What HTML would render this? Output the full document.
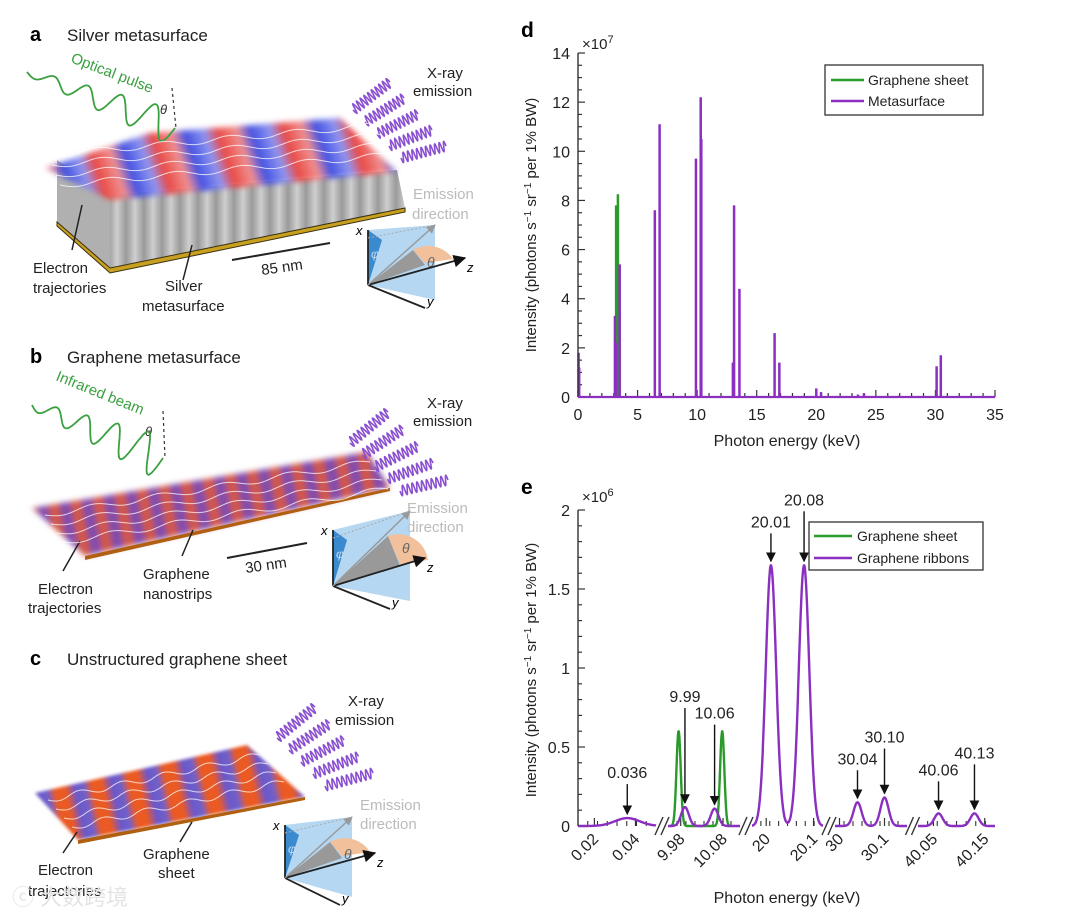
<!DOCTYPE html>
<html><head><meta charset="utf-8"><style>
html,body{margin:0;padding:0;background:#fff;}
svg{display:block;font-family:"Liberation Sans","Noto Sans CJK SC",sans-serif;}
</style></head><body>
<svg id="fig" width="1080" height="917" viewBox="0 0 1080 917">
<defs>
<filter id="blur2"><feGaussianBlur stdDeviation="3"/></filter>
<filter id="blur1"><feGaussianBlur stdDeviation="1.5"/></filter>
<linearGradient id="gA" gradientUnits="userSpaceOnUse" x1="40" y1="0" x2="100" y2="-20" spreadMethod="repeat">
<stop offset="0" stop-color="#e8403a"/><stop offset="0.3" stop-color="#f08a8a"/><stop offset="0.5" stop-color="#3a4ae0"/><stop offset="0.8" stop-color="#8a90f0"/><stop offset="1" stop-color="#e8403a"/></linearGradient>
<linearGradient id="gB" gradientUnits="userSpaceOnUse" x1="30" y1="0" x2="52" y2="-4" spreadMethod="repeat">
<stop offset="0" stop-color="#e85a2a"/><stop offset="0.5" stop-color="#6a4ac8"/><stop offset="1" stop-color="#e85a2a"/></linearGradient>
<linearGradient id="gC" gradientUnits="userSpaceOnUse" x1="30" y1="0" x2="66" y2="-8" spreadMethod="repeat">
<stop offset="0" stop-color="#ea5a22"/><stop offset="0.3" stop-color="#ea5a22"/><stop offset="0.55" stop-color="#6a58cc"/><stop offset="0.8" stop-color="#7060c8"/><stop offset="1" stop-color="#ea5a22"/></linearGradient>
<linearGradient id="gF" x1="0" y1="0" x2="1" y2="0" spreadMethod="repeat" gradientUnits="userSpaceOnUse" gradientTransform="scale(18,1)">
<stop offset="0" stop-color="#9a9a9a"/><stop offset="0.5" stop-color="#cfcfcf"/><stop offset="1" stop-color="#9a9a9a"/></linearGradient>
<marker id="arr" viewBox="0 0 10 10" refX="9" refY="5" markerWidth="7" markerHeight="7" orient="auto"><path d="M0,0L10,5L0,10z" fill="#111"/></marker>
<marker id="arrG" viewBox="0 0 10 10" refX="9" refY="5" markerWidth="6" markerHeight="6" orient="auto"><path d="M0,0L10,5L0,10z" fill="#999"/></marker>
</defs>

<!-- Panel a -->
<g>
<text x="30" y="41" font-size="20" font-weight="bold">a</text>
<text x="67" y="41" font-size="17" fill="#222">Silver metasurface</text>
<text x="70" y="62" font-size="15" fill="#3aa040" transform="rotate(21 70 62)">Optical pulse</text>
<text x="160" y="114" font-size="13" font-style="italic" fill="#333">θ</text>
<line x1="172" y1="88" x2="176" y2="128" stroke="#333" stroke-dasharray="3,3" stroke-width="1.2"/>
<polygon points="57,160 110,195 110,268 57,222" fill="#b0b0b0"/>
<polygon points="110,195 397,170 405,208 110,268" fill="url(#gF)"/>
<polygon points="57,222 110,268 405,208 405,212 110,273 57,226" fill="#c8a020" stroke="#3a3010" stroke-width="1"/>
<polygon points="45,168 150,133 340,118 397,172 110,200" fill="url(#gA)" filter="url(#blur2)" opacity="0.95"/>
<text x="413" y="78" font-size="15" fill="#222"><tspan x="427">X-ray</tspan><tspan x="413" y="96">emission</tspan></text>
<text x="413" y="199" font-size="15" fill="#bbb"><tspan>Emission</tspan><tspan x="412" y="219">direction</tspan></text>
<text x="33" y="273" font-size="15" fill="#222"><tspan>Electron</tspan><tspan x="33" y="293">trajectories</tspan></text>
<text x="165" y="291" font-size="15" fill="#222"><tspan>Silver</tspan><tspan x="142" y="311">metasurface</tspan></text>
<line x1="72" y1="250" x2="82" y2="205" stroke="#222" stroke-width="1.5"/>
<line x1="183" y1="280" x2="192" y2="245" stroke="#222" stroke-width="1.5"/>
<line x1="232" y1="260" x2="330" y2="243" stroke="#222" stroke-width="2"/>
<text x="262" y="275" font-size="15" fill="#222" transform="rotate(-8 262 275)">85 nm</text>
</g>

<!-- Panel b -->
<g>
<text x="30" y="363" font-size="20" font-weight="bold">b</text>
<text x="67" y="363" font-size="17" fill="#222">Graphene metasurface</text>
<text x="55" y="380" font-size="15" fill="#3aa040" transform="rotate(22 55 380)">Infrared beam</text>
<text x="145" y="436" font-size="13" font-style="italic" fill="#333">θ</text>
<line x1="163" y1="411" x2="165" y2="458" stroke="#333" stroke-dasharray="3,3" stroke-width="1.2"/>
<polygon points="32,508 367,452 390,488 85,556" fill="url(#gB)" filter="url(#blur2)"/>
<polygon points="85,556 390,488 390,491 85,560" fill="#b06010"/>
<text x="427" y="408" font-size="15" fill="#222"><tspan>X-ray</tspan><tspan x="413" y="426">emission</tspan></text>
<text x="407" y="513" font-size="15" fill="#bbb"><tspan>Emission</tspan><tspan x="407" y="532">direction</tspan></text>
<text x="38" y="594" font-size="15" fill="#222"><tspan>Electron</tspan><tspan x="28" y="613">trajectories</tspan></text>
<text x="143" y="579" font-size="15" fill="#222"><tspan>Graphene</tspan><tspan x="143" y="599">nanostrips</tspan></text>
<line x1="63" y1="571" x2="80" y2="541" stroke="#222" stroke-width="1.5"/>
<line x1="182" y1="556" x2="193" y2="530" stroke="#222" stroke-width="1.5"/>
<line x1="227" y1="558" x2="307" y2="543" stroke="#222" stroke-width="2"/>
<text x="246" y="573" font-size="15" fill="#222" transform="rotate(-8 246 573)">30 nm</text>
</g>

<!-- Panel c -->
<g>
<text x="30" y="665" font-size="20" font-weight="bold">c</text>
<text x="67" y="665" font-size="17" fill="#222">Unstructured graphene sheet</text>
<polygon points="35,793 247,745 305,797 78,840" fill="url(#gC)" filter="url(#blur1)"/>
<polygon points="78,840 305,797 305,800 78,844" fill="#b06010"/>
<text x="348" y="706" font-size="15" fill="#222"><tspan>X-ray</tspan><tspan x="335" y="725">emission</tspan></text>
<text x="360" y="810" font-size="15" fill="#bbb"><tspan>Emission</tspan><tspan x="360" y="829">direction</tspan></text>
<text x="38" y="875" font-size="15" fill="#222"><tspan>Electron</tspan><tspan x="28" y="896">trajectories</tspan></text>
<text x="143" y="859" font-size="15" fill="#222"><tspan>Graphene</tspan><tspan x="158" y="878">sheet</tspan></text>
<line x1="63" y1="853" x2="77" y2="832" stroke="#222" stroke-width="1.5"/>
<line x1="180" y1="842" x2="192" y2="822" stroke="#222" stroke-width="1.5"/>
<text x="12" y="905" font-size="22" fill="#e4e4e4">ⓒ 大数跨境</text>
</g>

<g id="illus"></g>
<g id="chartD"></g>
<g id="chartE"></g>
</svg>

<script>
// ---------- Chart d data ----------
const dGreenEnergy = [3.2, 3.35];
const dGreenIntensity = [7.8, 8.25];
const dPurpleEnergy = [0.05, 0.1, 3.1, 3.2, 3.5, 6.45, 6.85, 9.9, 10.3, 10.35, 13.0, 13.1, 13.55, 16.5, 16.9, 20.0, 20.4, 23.5, 24.0, 26.9, 30.1, 30.45];
const dPurpleIntensity = [1.8, 1.2, 3.3, 2.2, 5.4, 7.6, 11.1, 9.7, 12.2, 10.5, 1.4, 7.8, 4.4, 2.6, 1.4, 0.35, 0.2, 0.1, 0.15, 0.05, 1.25, 1.7];
const dXTicks = [0, 5, 10, 15, 20, 25, 30, 35];
const dYTicks = [0, 2, 4, 6, 8, 10, 12, 14];

// ---------- Chart e data ----------
const eSegLo = [0.012, 9.95, 19.97, 29.99, 40.02];
const eSegHi = [0.05, 10.12, 20.12, 30.15, 40.17];
const eGreenCenter = [9.975, 10.078];
const eGreenHeight = [0.6, 0.6];
const eGreenSigma = [0.005, 0.005];
const eGreenSeg = [1, 1];
const ePurpleCenter = [0.036, 9.99, 10.06, 20.01, 20.08, 30.04, 30.10, 40.06, 40.13];
const ePurpleHeight = [0.05, 0.12, 0.11, 1.65, 1.65, 0.15, 0.18, 0.08, 0.08];
const ePurpleSigma = [0.006, 0.009, 0.009, 0.011, 0.011, 0.009, 0.009, 0.008, 0.008];
const ePurpleSeg = [0, 1, 1, 2, 2, 3, 3, 4, 4];
const eAnnotLabels = ["0.036", "9.99", "10.06", "20.01", "20.08", "30.04", "30.10", "40.06", "40.13"];
const eXTickVals = [0.02, 0.04, 9.98, 10.08, 20, 20.1, 30, 30.1, 40.05, 40.15];
const eXTickLabels = ["0.02", "0.04", "9.98", "10.08", "20", "20.1", "30", "30.1", "40.05", "40.15"];
const eXTickSeg = [0, 0, 1, 1, 2, 2, 3, 3, 4, 4];
const eYTicks = [0, 0.5, 1, 1.5, 2];
const eYTickLabels = ["0", "0.5", "1", "1.5", "2"];

const NS = "http://www.w3.org/2000/svg";
function mk(tag, attrs, parent) {
  const el = document.createElementNS(NS, tag);
  for (const k in attrs) el.setAttribute(k, attrs[k]);
  parent.appendChild(el);
  return el;
}
const PURPLE = "#8a2fc0", GREEN = "#2a9a2a";

// ---------- illustrations ----------
const il = document.getElementById("illus");
function wave(x0, y0, x1, y1, cycles, a0, a1, color, w, name) {
  let d = "";
  const n = 200, dx = x1 - x0, dy = y1 - y0, L = Math.hypot(dx, dy);
  const px = -dy / L, py = dx / L;
  for (let i = 0; i <= n; i++) {
    const t = i / n, a = a0 + (a1 - a0) * t;
    const s = a * Math.sin(2 * Math.PI * cycles * t);
    d += (i ? "L" : "M") + (x0 + dx * t + px * s).toFixed(1) + "," + (y0 + dy * t + py * s).toFixed(1);
  }
  const p = mk("path", {d: d, fill: "none", stroke: color, "stroke-width": w}, il);
  
  
}
wave(27, 72, 175, 128, 4.5, 3, 18, "#3aa040", 1.8, "optical-pulse-wave");
wave(32, 405, 163, 458, 4.5, 4, 22, "#3aa040", 1.8, "infrared-beam-wave");
for (let i = 0; i < 5; i++) {
  wave(353 + 12 * i, 110 + 12 * i, 390 + 14 * i, 82 + 16 * i, 10, 5, 5, "#8a50d0", 1.6, "xray-wave-a");
  wave(350 + 12.5 * i, 443 + 12 * i, 388 + 15 * i, 412 + 17 * i, 10, 5, 5, "#8a50d0", 1.6, "xray-wave-b");
  wave(277 + 12 * i, 738 + 12 * i, 315 + 14.5 * i, 707 + 16.5 * i, 10, 5, 5, "#8a50d0", 1.6, "xray-wave-c");
}
function traj(x0, y0, x1, y1, n, off, name) {
  for (let i = 0; i < n; i++) wave(x0 + off[0] * i, y0 + off[1] * i, x1 + off[0] * i, y1 + off[1] * i, 5, 3, 3, "rgba(255,255,255,0.75)", 1, name);
}
traj(60, 185, 390, 155, 4, [-4, -10], "electron-trajectory-a");
traj(45, 515, 370, 462, 4, [6, 9], "electron-trajectory-b");
traj(48, 800, 260, 755, 4, [8, 9], "electron-trajectory-c");
function axesIcon(V, X, Z, Y, E, name) {
  const g = mk("g", {}, il);
  
  
  mk("polygon", {points: `${V[0]},${V[1]} ${X[0]},${X[1]} ${E[0]},${E[1]} ${E[0]},${Y[1] - 8}`, fill: "#a8d0ee", opacity: 0.85}, g);
  mk("polygon", {points: `${V[0]},${V[1]} ${X[0]},${X[1]} ${X[0] + 14},${X[1] + 10}`, fill: "#3a8ad0"}, g);
  mk("polygon", {points: `${V[0]},${V[1]} ${E[0] - 22},${E[1] + 25} ${E[0] - 10},${V[1] - 20}`, fill: "#999"}, g);
  mk("path", {d: `M${E[0] - 22},${E[1] + 25} L${E[0] - 10},${V[1] - 22} L${E[0] + 18},${V[1] - 26} A30,30 0 0 0 ${E[0] - 22},${E[1] + 25}z`, fill: "#f2c09a"}, g);
  mk("text", {x: E[0] - 8, y: E[1] + 42, "font-size": 14, "font-style": "italic", fill: "#666"}, g).textContent = "θ";
  mk("text", {x: X[0] + 3, y: X[1] + 28, "font-size": 12, "font-style": "italic", fill: "#cde"}, g).textContent = "φ";
  mk("line", {x1: V[0], y1: V[1], x2: X[0], y2: X[1], stroke: "#222", "stroke-width": 1.8}, g);
  mk("line", {x1: V[0], y1: V[1], x2: Z[0], y2: Z[1], stroke: "#222", "stroke-width": 1.8, "marker-end": "url(#arr)"}, g);
  mk("line", {x1: V[0], y1: V[1], x2: Y[0], y2: Y[1], stroke: "#222", "stroke-width": 1.8}, g);
  mk("line", {x1: V[0], y1: V[1], x2: E[0], y2: E[1], stroke: "#999", "stroke-width": 1.5, "marker-end": "url(#arrG)"}, g);
  mk("line", {x1: X[0], y1: X[1] + 8, x2: E[0], y2: E[1], stroke: "#aaa", "stroke-width": 1, "stroke-dasharray": "2,2"}, g);
  mk("text", {x: X[0] - 12, y: X[1] + 5, "font-size": 13, "font-style": "italic"}, g).textContent = "x";
  mk("text", {x: Z[0] + 2, y: Z[1] + 14, "font-size": 13, "font-style": "italic"}, g).textContent = "z";
  mk("text", {x: Y[0] + 2, y: Y[1] - 2, "font-size": 13, "font-style": "italic"}, g).textContent = "y";
}
axesIcon([368, 285], [368, 230], [465, 258], [425, 308], [435, 225], "axes-icon-a");
axesIcon([333, 586], [333, 530], [425, 558], [390, 609], [410, 511], "axes-icon-b");
axesIcon([285, 878], [285, 825], [375, 853], [340, 905], [352, 817], "axes-icon-c");

// ---------- Chart d ----------
const gd = document.getElementById("chartD");
const dX0 = 578, dX1 = 995, dY0 = 397, dY1 = 53;
const xd = v => dX0 + v * (dX1 - dX0) / 35;
const yd = v => dY0 - v * (dY0 - dY1) / 14;
for (let v = 0; v <= 35; v += 1) {
  const t = mk("line", {x1: xd(v), x2: xd(v), y1: dY0, y2: dY0 - (v % 5 === 0 ? 7 : 4), stroke: "#333", "stroke-width": 1.2}, gd);
  
  
}
for (let v = 0; v <= 14; v += 0.5) {
  const t = mk("line", {x1: dX0, x2: dX0 + (v % 2 === 0 ? 7 : 4), y1: yd(v), y2: yd(v), stroke: "#333", "stroke-width": 1.2}, gd);
  
  
}
dXTicks.forEach(v => {
  const t = mk("text", {x: xd(v), y: 420, "font-size": 16, "text-anchor": "middle", fill: "#222"}, gd);
  t.textContent = v;
  
  
});
dYTicks.forEach(v => {
  const t = mk("text", {x: 570, y: yd(v) + 6, "font-size": 16, "text-anchor": "end", fill: "#222"}, gd);
  t.textContent = v;
  
  
});
dGreenEnergy.forEach((e, i) => {
  const l = mk("line", {x1: xd(e), x2: xd(e), y1: dY0, y2: yd(dGreenIntensity[i]), stroke: GREEN, "stroke-width": 2.5}, gd);
  
  
});
dPurpleEnergy.forEach((e, i) => {
  const l = mk("line", {x1: xd(e), x2: xd(e), y1: dY0, y2: yd(dPurpleIntensity[i]), stroke: PURPLE, "stroke-width": 2.5}, gd);
  
  
});
mk("line", {x1: dX0, x2: dX0, y1: dY0, y2: dY1, stroke: "#333", "stroke-width": 1.4}, gd);
mk("line", {x1: dX0, x2: dX1, y1: dY0, y2: dY0, stroke: PURPLE, "stroke-width": 2.2}, gd);
(function () {
  const t = mk("text", {x: 582, y: 49, "font-size": 15, fill: "#222"}, gd);
  t.innerHTML = '×10<tspan dy="-6" font-size="11">7</tspan>';
  
  
  const d = mk("text", {x: 521, y: 37, "font-size": 21, "font-weight": "bold"}, gd);
  d.textContent = "d";
  
  
  const xt = mk("text", {x: 787, y: 446, "font-size": 16, "text-anchor": "middle", fill: "#222"}, gd);
  xt.textContent = "Photon energy (keV)";
  
  
  const yt = mk("text", {x: 0, y: 0, "font-size": 15, "text-anchor": "middle", fill: "#222", transform: "translate(536,225) rotate(-90)"}, gd);
  yt.innerHTML = 'Intensity (photons s<tspan dy="-5" font-size="10">−1</tspan><tspan dy="5"> sr</tspan><tspan dy="-5" font-size="10">−1</tspan><tspan dy="5"> per 1% BW)</tspan>';
  
  
  const lg = mk("g", {}, gd);
  
  
  mk("rect", {x: 825, y: 65, width: 158, height: 50, fill: "#fff", stroke: "#333", "stroke-width": 1.3}, lg);
  mk("line", {x1: 831, x2: 864, y1: 80, y2: 80, stroke: GREEN, "stroke-width": 2.5}, lg);
  mk("line", {x1: 831, x2: 864, y1: 101, y2: 101, stroke: PURPLE, "stroke-width": 2.5}, lg);
  mk("text", {x: 868, y: 85, "font-size": 14, fill: "#222"}, lg).textContent = "Graphene sheet";
  mk("text", {x: 868, y: 106, "font-size": 14, fill: "#222"}, lg).textContent = "Metasurface";
})();

// ---------- Chart e ----------
const ge = document.getElementById("chartE");
const segPx0 = [578, 668, 752, 835, 918], segPx1 = [656, 740, 823, 907, 995];
const eY0 = 826, eY1 = 510;
const xe = (v, s) => segPx0[s] + (v - eSegLo[s]) * (segPx1[s] - segPx0[s]) / (eSegHi[s] - eSegLo[s]);
const ye = v => eY0 - v * (eY0 - eY1) / 2;
for (let v = 0; v <= 2.0001; v += 0.1) {
  const major = Math.abs(v * 2 - Math.round(v * 2)) < 1e-6;
  const t = mk("line", {x1: 578, x2: 578 + (major ? 7 : 4), y1: ye(v), y2: ye(v), stroke: "#333", "stroke-width": 1.2}, ge);
  
  
}
eYTicks.forEach((v, i) => {
  const t = mk("text", {x: 570, y: ye(v) + 6, "font-size": 16, "text-anchor": "end", fill: "#222"}, ge);
  t.textContent = eYTickLabels[i];
  
  
});
for (let s = 0; s < 5; s++) {
  const step = (eSegHi[s] - eSegLo[s]) / 8;
  for (let k = 1; k < 8; k++) {
    const t = mk("line", {x1: xe(eSegLo[s] + k * step, s), x2: xe(eSegLo[s] + k * step, s), y1: eY0, y2: eY0 - 5, stroke: "#333", "stroke-width": 1.1}, ge);
    
    
  }
}
eXTickVals.forEach((v, i) => {
  const x = xe(v, eXTickSeg[i]);
  const tk = mk("line", {x1: x, x2: x, y1: eY0, y2: eY0 - 8, stroke: "#333", "stroke-width": 1.2}, ge);
  
  
  const t = mk("text", {x: 0, y: 0, "font-size": 16, "text-anchor": "end", fill: "#222", transform: `translate(${x + 5},${eY0 + 14}) rotate(-45)`}, ge);
  t.textContent = eXTickLabels[i];
  
  
});
function curve(centers, heights, sigmas, segs, color, name, fullBaseline) {
  for (let s = 0; s < 5; s++) {
    const idx = segs.map((g, i) => g === s ? i : -1).filter(i => i >= 0);
    if (!idx.length && !fullBaseline) continue;
    let lo = eSegLo[s], hi = eSegHi[s];
    if (!fullBaseline) {
      lo = Math.min(...idx.map(i => centers[i] - 4 * sigmas[i]));
      hi = Math.max(...idx.map(i => centers[i] + 4 * sigmas[i]));
    }
    let d = "";
    const n = 240;
    for (let k = 0; k <= n; k++) {
      const v = lo + (hi - lo) * k / n;
      let y = 0;
      idx.forEach(i => { y += heights[i] * Math.exp(-0.5 * Math.pow((v - centers[i]) / sigmas[i], 2)); });
      d += (k ? "L" : "M") + xe(v, s).toFixed(1) + "," + ye(y).toFixed(1);
    }
    const p = mk("path", {d: d, fill: "none", stroke: color, "stroke-width": 2.4, "stroke-linejoin": "round"}, ge);
    
    
  }
}
curve(eGreenCenter, eGreenHeight, eGreenSigma, eGreenSeg, GREEN, "graphene-sheet-curve", false);
curve(ePurpleCenter, ePurpleHeight, ePurpleSigma, ePurpleSeg, PURPLE, "graphene-ribbons-curve", true);
mk("line", {x1: 578, x2: 578, y1: eY0, y2: eY1, stroke: "#333", "stroke-width": 1.4}, ge);
for (let s = 0; s < 4; s++) {
  const bx = (segPx1[s] + segPx0[s + 1]) / 2;
  mk("rect", {x: bx - 5, y: eY0 - 3, width: 10, height: 6, fill: "#fff"}, ge);
  [-3, 3].forEach(o => {
    const b = mk("line", {x1: bx + o - 4, y1: eY0 + 9, x2: bx + o + 4, y2: eY0 - 9, stroke: "#333", "stroke-width": 1.4}, ge);
    
    
  });
}
const annotDx = [0, 0, 0, 0, 0, 0, 0, 0, 0];
const annotLen = [30, 95, 80, 28, 50, 28, 45, 28, 45];
ePurpleCenter.forEach((c, i) => {
  const x = xe(c, ePurpleSeg[i]);
  const tip = ye(ePurpleHeight[i]) - 4;
  const a = mk("line", {x1: x, x2: x, y1: tip - annotLen[i], y2: tip, stroke: "#111", "stroke-width": 1.4, "marker-end": "url(#arr)"}, ge);
  
  
  const t = mk("text", {x: x + annotDx[i], y: tip - annotLen[i] - 6, "font-size": 16, "text-anchor": "middle", fill: "#222"}, ge);
  t.textContent = eAnnotLabels[i];
  
  
});
(function () {
  const t = mk("text", {x: 582, y: 502, "font-size": 15, fill: "#222"}, ge);
  t.innerHTML = '×10<tspan dy="-6" font-size="11">6</tspan>';
  
  
  const d = mk("text", {x: 521, y: 494, "font-size": 21, "font-weight": "bold"}, ge);
  d.textContent = "e";
  
  
  const xt = mk("text", {x: 787, y: 903, "font-size": 16, "text-anchor": "middle", fill: "#222"}, ge);
  xt.textContent = "Photon energy (keV)";
  
  
  const yt = mk("text", {x: 0, y: 0, "font-size": 15, "text-anchor": "middle", fill: "#222", transform: "translate(536,670) rotate(-90)"}, ge);
  yt.innerHTML = 'Intensity (photons s<tspan dy="-5" font-size="10">−1</tspan><tspan dy="5"> sr</tspan><tspan dy="-5" font-size="10">−1</tspan><tspan dy="5"> per 1% BW)</tspan>';
  
  
  const lg = mk("g", {}, ge);
  
  
  mk("rect", {x: 809, y: 522, width: 174, height: 48, fill: "#fff", stroke: "#333", "stroke-width": 1.3}, lg);
  mk("line", {x1: 814, x2: 852, y1: 536, y2: 536, stroke: GREEN, "stroke-width": 2.5}, lg);
  mk("line", {x1: 814, x2: 852, y1: 558, y2: 558, stroke: PURPLE, "stroke-width": 2.5}, lg);
  mk("text", {x: 857, y: 541, "font-size": 14, fill: "#222"}, lg).textContent = "Graphene sheet";
  mk("text", {x: 857, y: 563, "font-size": 14, fill: "#222"}, lg).textContent = "Graphene ribbons";
})();
</script>
</body></html>
